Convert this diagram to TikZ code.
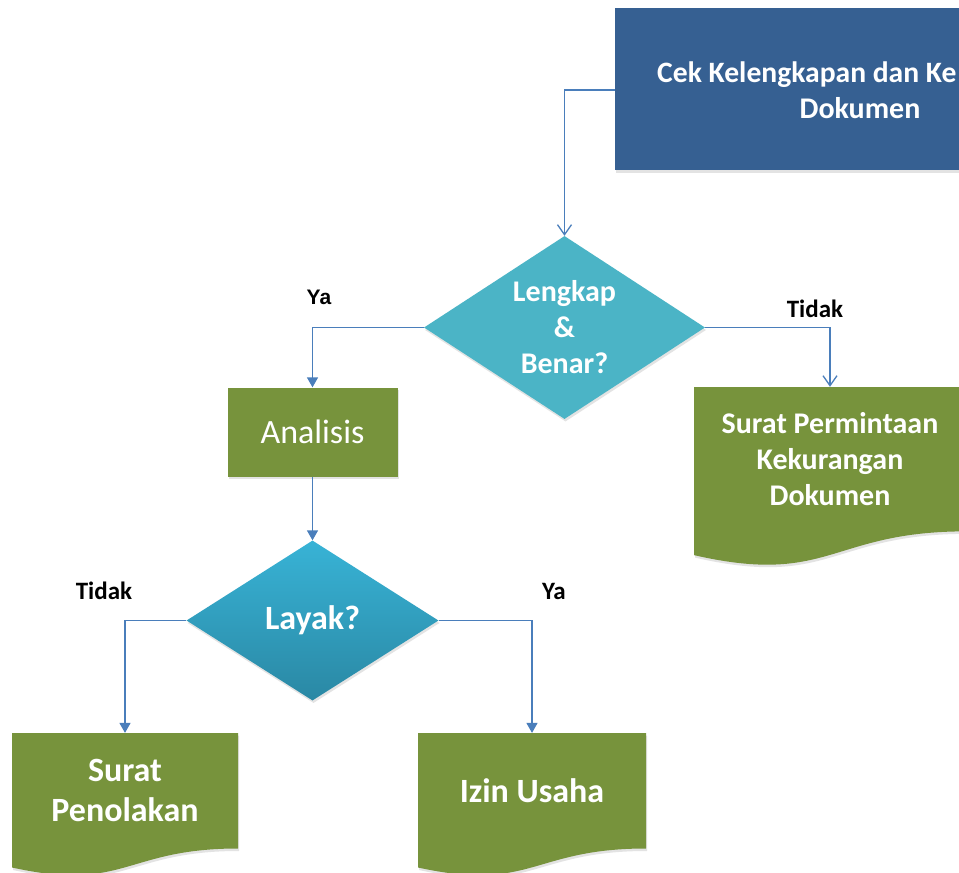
\documentclass[tikz,border=0pt]{standalone}
\usepackage{fontspec}
\setmainfont{Carlito}
\newfontfamily\arialfont{Liberation Sans}
\usetikzlibrary{shapes.geometric,arrows.meta,shadows}
\definecolor{boxblue}{HTML}{366092}
\definecolor{aqua}{HTML}{4BB4C6}
\definecolor{leaf}{HTML}{77933C}
\definecolor{aquatop}{HTML}{38B3D6}
\definecolor{aquabot}{HTML}{2A88A4}
\definecolor{wire}{HTML}{4A7EBB}
\newcommand\docfill[4]{% x0 y0 w h
  \fill[leaf, softshadow] (#1,#2) -- ({#1+#3},#2) -- ({#1+#3},{#2+0.802*#4})
    .. controls ({#1+#3/2},{#2+0.802*#4}) and ({#1+#3/2},{#2+1.107*#4}) .. (#1,{#2+0.934*#4}) -- cycle;}
\begin{document}
\begin{tikzpicture}[x=1pt,y=-1pt,
  softshadow/.style={drop shadow={opacity=0.22,shadow xshift=1pt,shadow yshift=-2.5pt}},
  midtxt/.style={font=\fontsize{30}{36}\selectfont\bfseries, text=white, align=center},
  bigtxt/.style={font=\fontsize{34}{40}\selectfont\bfseries, text=white, align=center},
  doctext/.style={bigtxt, inner sep=0pt},
  decision/.style={diamond, inner sep=0pt, softshadow},
  tag/.style={font=\fontsize{25}{30}\selectfont\bfseries, text=black, inner sep=0pt},
  arialtag/.style={font=\arialfont\fontsize{21}{25}\selectfont\bfseries, text=black, inner sep=0pt},
  wireline/.style={draw=wire, line width=1.4pt},
  openarrow/.style={wireline, -{Straight Barb[length=10pt,width=14pt,line width=1.3pt]}},
  fillarrow/.style={wireline, -{Triangle[length=10pt,width=11pt]}}
]
\path[use as bounding box] (0,0) rectangle (959,873);
\clip (0,0) rectangle (959,873);
\fill[white] (0,0) rectangle (959,873);

% top process box (extends past the right edge)
\node[fill=boxblue, softshadow, minimum width=490pt, minimum height=162pt, inner sep=0pt] (top) at (860,89) {};
\node[text=white, font=\fontsize{29.6}{36}\selectfont\bfseries, anchor=base west, inner sep=0pt] (topa) at (657,82) {Cek Kelengkapan dan Ke};
\node[midtxt, anchor=base, inner sep=0pt] (topb) at (860,118) {Dokumen};

% decision 1
\node[decision, aspect=1.535, fill=aqua, minimum width=281pt, minimum height=183pt, midtxt] (d1) at (564.5,327.5) {Lengkap\\\&\\Benar?};

% analysis
\node[fill=leaf, softshadow, minimum width=170pt, minimum height=89pt, inner sep=0pt,
      font=\fontsize{34}{40}\selectfont, text=white] (ana) at (312.5,432) {Analisis};

% decision 2
\node[decision, aspect=1.575, top color=aquatop, bottom color=aquabot, minimum width=252pt, minimum height=160pt, bigtxt] (d2) at (312.5,620.5) {Layak?};

% documents
\docfill{694}{387}{272}{180}
\node[doctext, midtxt, minimum width=272pt, minimum height=144pt] (doc1) at (830,459) {Surat Permintaan\\Kekurangan\\Dokumen};
\docfill{12}{733}{226}{144}
\node[doctext, minimum width=226pt, minimum height=115pt] (doc2) at (125,790.6) {Surat\\Penolakan};
\docfill{418}{733}{228}{144}
\node[doctext, minimum width=228pt, minimum height=115pt] (doc3) at (532,790.6) {Izin Usaha};

% connectors
\draw[openarrow] (top.west |- 0,90) -| (d1.north);
\draw[fillarrow] (d1.west) -| (ana.north);
\draw[openarrow] (d1.east) -| (doc1.north);
\draw[fillarrow] (ana.south) -- (d2.north);
\draw[fillarrow] (d2.west) -| (doc2.north);
\draw[fillarrow] (d2.east) -| (doc3.north);

% labels
\node[arialtag] (ya1) at (319,297) {Ya};
\node[tag] (tidak1) at (815,309) {Tidak};
\node[tag] (tidak2) at (104,591) {Tidak};
\node[tag] (ya2) at (554,591) {Ya};
\end{tikzpicture}
\end{document}
